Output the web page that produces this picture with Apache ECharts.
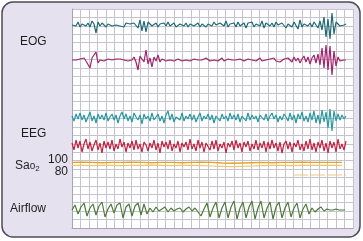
<!DOCTYPE html>
<html><head><meta charset="utf-8">
<script src="https://cdn.jsdelivr.net/npm/echarts@6/dist/echarts.min.js"></script>
<style>html,body{margin:0;padding:0;background:#fff}#c{width:363px;height:241px}</style>
</head><body><div id="c"></div>
<script>
// Trace values (deviation from each channel's baseline, arbitrary units, positive = up)
const eog1 = [0,2,-1,3,-2,1,3,-1,2,-2,4,1,-8,3,-1,2,0,-2,1,2,
 -1,1,0,2,-1,1,-2,2,0,1,-1,2,1,-3,5,-6,4,-7,3,2,
 -1,1,2,-2,1,0,2,-1,3,-1,1,2,-2,0,1,3,-1,2,-2,1,
 3,-1,0,2,-2,1,3,-2,1,2,-1,3,0,-2,2,1,-1,4,-2,1,
 0,2,-2,3,-1,1,2,-3,2,0,3,-2,1,2,-1,4,-3,2,1,-1,
 2,-2,3,0,-1,2,4,-3,1,2,-2,3,1,-4,5,-2,1,3,-1,2,
 -2,3,1,-3,4,-5,8,-12,6,-14,12,-9,3,2,-1,1,0,1];
const eog2 = [0,1,0,-1,1,0,2,-1,0,-8,2,1,8,-3,0,1,-1,0,1,0,
 0,-1,1,0,1,-1,0,2,-1,1,0,3,-2,-10,4,1,-2,10,-4,2,
 -7,3,-1,5,-2,1,0,-1,1,0,1,-1,0,1,0,-1,1,0,2,-1,
 0,1,-1,0,1,0,-1,2,0,-1,1,0,1,-1,0,2,-1,0,1,-1,
 0,1,0,-1,1,2,-1,0,1,-1,0,1,-1,0,2,-1,1,0,-1,1,
 0,2,-1,1,-2,0,1,-1,2,0,-2,3,-1,2,-3,1,4,-2,3,-4,
 2,5,-3,6,-5,12,-8,15,-10,14,-15,9,-6,3,-1,1,0,0];
const eeg1 = [2,-3,4,-1,5,-2,3,-4,1,6,-3,2,-5,4,-1,3,-2,5,-3,1,
 4,-2,3,-5,2,6,-1,4,-3,2,-4,5,1,-2,3,-6,4,-1,2,-3,
 5,-2,1,4,-3,2,-5,3,7,-2,4,-4,1,3,-2,5,-3,2,-1,4,
 -2,3,-4,1,5,-3,2,-1,4,-2,3,-5,2,1,-3,4,-1,2,-3,5,
 -1,3,-2,4,-4,2,1,-3,5,-2,3,-1,2,-4,3,1,-2,4,-3,2,
 5,-1,3,-4,2,-2,4,1,-3,5,-2,3,-5,4,-1,6,-3,2,-4,5,
 -2,7,-5,3,-6,8,-4,6,-10,9,-13,7,-3,4,-2,3,-1,2];
const eeg2 = [3,-4,6,-2,5,-6,2,7,-3,4,-5,1,6,-4,3,-7,5,-2,4,-3,
 6,-5,2,-3,7,-1,4,-6,3,-2,5,-4,6,-3,2,-6,4,1,-5,3,
 -2,6,-4,3,-7,5,-1,4,-3,6,-5,2,-2,5,-6,3,-1,4,-4,7,
 -3,2,-5,6,-2,4,-6,3,1,-4,5,-3,6,-5,2,-2,4,-7,3,-1,
 5,-4,6,-2,3,-6,4,-1,5,-5,2,-3,6,-4,3,-2,5,-6,4,-3,
 6,-2,3,-5,4,-7,2,5,-3,4,-6,3,-1,6,-4,2,-5,5,-3,7,
 -4,3,-6,4,-2,6,-5,3,-7,5,-2,4,-6,7,-3,2,-4,5];
const sao2Upper = [96,96.5,96,95.5,96,96,96.5,96,95.5,96,96,95.5,96,96.5,96,95,94.5,95,95.5,96,95.5,96,96,96.5,96,96,96,96];
const sao2Lower = [91,91,90.5,91,91,90.5,91,91,91.5,91,90.5,91,91,90.5,90,89.5,89,89.5,90,90.5,91,91,90.5,91,91,91,91,91];
const sao2Mark = [75,75];
const airflow = [0,5,-4,3,7,-6,2,6,-5,4,8,-7,1,6,-3,5,7,-8,3,6,-6,4,7,-5,6,-4,
 2,-2,3,-1,1,3,-2,2,-1,1,2,-2,1,3,-1,2,-2,
 -6,1,7,-7,2,8,-8,2,8,-8,3,9,-9,2,8,-8,3,9,-9,2,9,-8,2,8,-9,3,8,-8,2,8,-7,2,7,-8,1,6,
 -4,2,-2,1,3,-1,1,0,0,1,0,0,0];
const sao2Ticks = [80, 100];
const labels = ['EOG', 'EEG', 'Airflow'];

const chart = echarts.init(document.getElementById('c'), null, {renderer: 'canvas'});
const L = 72, W = 281;
function pts(arr, step, x0) { return arr.map((v, i) => [(x0 || 0) + i * step, v]); }

const bands = [
  {top: 5, h: 40, min: -20, max: 20},     // EOG1
  {top: 40, h: 40, min: -20, max: 20},    // EOG2
  {top: 98, h: 40, min: -20, max: 20},    // EEG1
  {top: 126, h: 40, min: -20, max: 20},   // EEG2
  {top: 154, h: 30, min: 60, max: 110},   // SaO2
  {top: 190, h: 40, min: -20, max: 20}    // Airflow
];
const grids = [{left: L, top: 9, width: W, height: 219}];
const xAxes = [{gridIndex: 0, type: 'value', min: 0, max: 33, interval: 1,
  axisLine: {show: true, lineStyle: {color: '#a4a4b4', width: 1}}, axisTick: {show: false}, axisLabel: {show: false},
  splitLine: {show: true, lineStyle: {color: '#c4c4d0', width: 1}}}];
const yAxes = [{gridIndex: 0, type: 'value', min: 0, max: 26, interval: 1,
  axisLine: {show: true, lineStyle: {color: '#a4a4b4', width: 1}}, axisTick: {show: false}, axisLabel: {show: false},
  splitLine: {show: true, lineStyle: {color: '#c4c4d0', width: 1}}}];
bands.forEach((b, k) => {
  grids.push({left: L, top: b.top, width: W, height: b.h});
  xAxes.push({gridIndex: k + 1, type: 'value', min: 0, max: W, show: false});
  const y = {gridIndex: k + 1, type: 'value', min: b.min, max: b.max, show: false, splitLine: {show: false}};
  if (k === 4) {
    Object.assign(y, {show: true, interval: 20, axisLine: {show: false}, axisTick: {show: false},
      axisLabel: {show: true, margin: 4, fontSize: 12, color: '#1e1e1e', fontFamily: 'Liberation Sans, Arial, sans-serif',
        showMinLabel: true, showMaxLabel: false,
        formatter: v => sao2Ticks.includes(v) ? String(v) : ''}});
  }
  yAxes.push(y);
});
function line(idx, data, color, width, extra) {
  return Object.assign({type: 'line', xAxisIndex: idx, yAxisIndex: idx, data: data, showSymbol: false, symbol: 'none',
    lineStyle: {color: color, width: width}, animation: false, silent: true}, extra || {});
}
const series = [
  line(1, pts(eog1, 2), '#1f6a74', 1.2),
  line(2, pts(eog2, 2), '#a3236d', 1.2),
  line(3, pts(eeg1, 2), '#2a98a0', 1.2),
  line(4, pts(eeg2, 2), '#c4203f', 1.2),
  line(5, pts(sao2Lower, 10), '#f2c46a', 1.2),
  line(5, pts(sao2Upper, 10), '#e6a228', 1.4),
  line(5, pts(sao2Mark, 52, 222), '#eec680', 1, {lineStyle: {color: '#eec680', width: 1, type: [14, 3]}}),
  line(6, pts(airflow, 3), '#4e7b38', 1.2)
];
const font = 'Liberation Sans, Arial, sans-serif';
chart.setOption({
  animation: false,
  grid: grids, xAxis: xAxes, yAxis: yAxes, series: series,
  graphic: [
    {type: 'rect', z: -10, shape: {x: 2, y: 2, width: 358, height: 235, r: 11},
      style: {fill: '#e5e1ef', stroke: '#4d4b58', lineWidth: 1.5}},
    {type: 'rect', z: -9, shape: {x: L, y: 9, width: W, height: 219}, style: {fill: '#ffffff'}},
    {type: 'text', left: 20, top: 36, style: {text: labels[0], font: '12px ' + font, fill: '#1e1e1e'}},
    {type: 'text', left: 21, top: 128, style: {text: labels[1], font: '12px ' + font, fill: '#1e1e1e'}},
    {type: 'text', left: 15, top: 160, style: {text: 'Sa{o|o}{s|2}', font: '12px ' + font, fill: '#1e1e1e',
      rich: {o: {fontSize: 10, fontFamily: font, fill: '#1e1e1e'}, s: {fontSize: 8, fontFamily: font, padding: [6, 0, 0, 0], fill: '#1e1e1e'}}}},
    {type: 'text', left: 10, top: 203, style: {text: labels[2], font: '12px ' + font, fill: '#1e1e1e'}}
  ]
});
</script></body></html>
